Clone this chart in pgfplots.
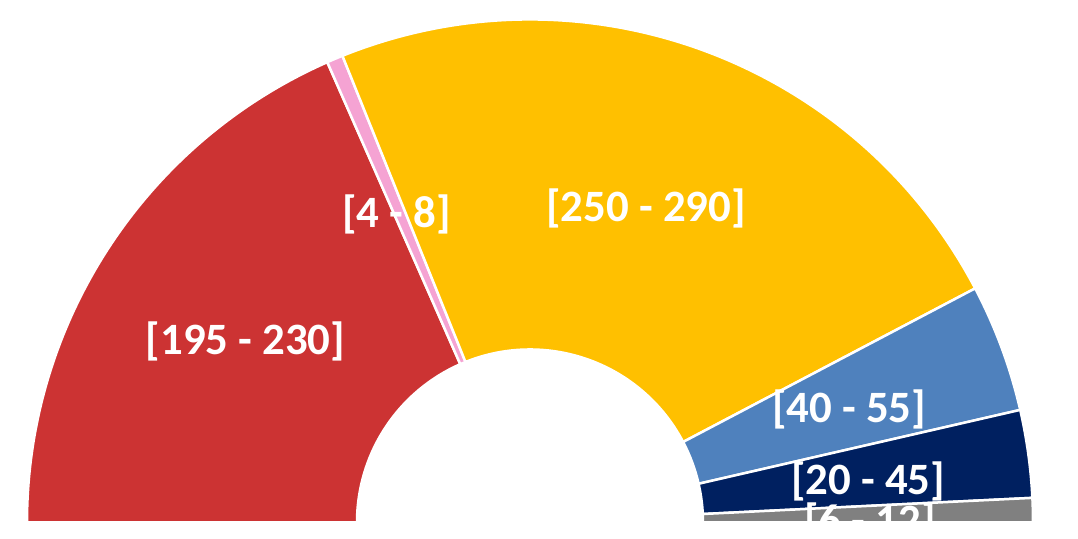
\documentclass[border=0pt]{standalone}
\usepackage{pgfplots}
\pgfplotsset{compat=1.18}
\usepackage{pgfplotstable}
\usepackage{fontspec}
\setmainfont{Carlito}
\definecolor{cRed}{HTML}{CC3333}
\definecolor{cPink}{HTML}{F5A3D3}
\definecolor{cYellow}{HTML}{FFC000}
\definecolor{cBlue}{HTML}{4F81BD}
\definecolor{cNavy}{HTML}{002060}
\definecolor{cGrey}{HTML}{808080}
\newcommand\labfont{\fontsize{45}{50}\selectfont\bfseries}
\pgfplotstableread{
lo hi col lx ly
195 230 cRed -284.5 168
4 8 cPink -133.5 295
250 290 cYellow 116 301
40 55 cBlue 319 100
20 45 cNavy 338 28
6 12 cGrey 340 -13
}\seats
\xdef\total{0}%
\foreach \i in {0,...,5}{%
  \pgfplotstablegetelem{\i}{lo}\of\seats \let\lo\pgfplotsretval
  \pgfplotstablegetelem{\i}{hi}\of\seats \let\hi\pgfplotsretval
  \pgfmathsetmacro\t{\total+(\lo+\hi)/2}%
  \xdef\total{\t}%
}%
\xdef\cum{180}%
\foreach \i in {0,...,5}{%
  \pgfplotstablegetelem{\i}{lo}\of\seats \let\lo\pgfplotsretval
  \pgfplotstablegetelem{\i}{hi}\of\seats \let\hi\pgfplotsretval
  \pgfplotstablegetelem{\i}{col}\of\seats \let\col\pgfplotsretval
  \pgfplotstablegetelem{\i}{lx}\of\seats \let\lx\pgfplotsretval
  \pgfplotstablegetelem{\i}{ly}\of\seats \let\ly\pgfplotsretval
  \pgfmathsetmacro\e{\cum-((\lo+\hi)/2)/\total*180}%
  \expandafter\xdef\csname aS\i\endcsname{\cum}%
  \expandafter\xdef\csname aE\i\endcsname{\e}%
  \expandafter\xdef\csname col\i\endcsname{\col}%
  \expandafter\xdef\csname lo\i\endcsname{\lo}%
  \expandafter\xdef\csname hi\i\endcsname{\hi}%
  \expandafter\xdef\csname lx\i\endcsname{\lx}%
  \expandafter\xdef\csname ly\i\endcsname{\ly}%
  \xdef\cum{\e}%
}%
\begin{document}
\begin{tikzpicture}
\begin{axis}[x=1bp, y=1bp, xmin=-530, xmax=548, ymin=-16.5, ymax=522.5,
  hide axis, clip=false]
\path (axis cs:-530,-16.5) rectangle (axis cs:548,522.5);
\pgfplotsinvokeforeach{0,...,5}{%
  \edef\sectorcmd{\noexpand\filldraw[overlay, fill=\csname col#1\endcsname, draw=white, line width=2.5bp]
    (axis cs:{503*cos(\csname aS#1\endcsname)},{503*sin(\csname aS#1\endcsname)})
    arc[start angle=\csname aS#1\endcsname, end angle=\csname aE#1\endcsname, radius=503bp]
    -- (axis cs:{173*cos(\csname aE#1\endcsname)},{173*sin(\csname aE#1\endcsname)})
    arc[start angle=\csname aE#1\endcsname, end angle=\csname aS#1\endcsname, radius=173bp]
    -- cycle;}%
  \sectorcmd
}
\pgfplotsinvokeforeach{0,...,5}{%
  \edef\labcmd{\noexpand\node[overlay, anchor=base, text=white, inner sep=0pt, font=\noexpand\labfont]
    at (axis cs:\csname lx#1\endcsname,\csname ly#1\endcsname)
    {[\csname lo#1\endcsname{} - \csname hi#1\endcsname]};}%
  \labcmd
}
\fill[white, overlay] (axis cs:-540,-40) rectangle (axis cs:560,-1);
\end{axis}
\end{tikzpicture}
\end{document}
